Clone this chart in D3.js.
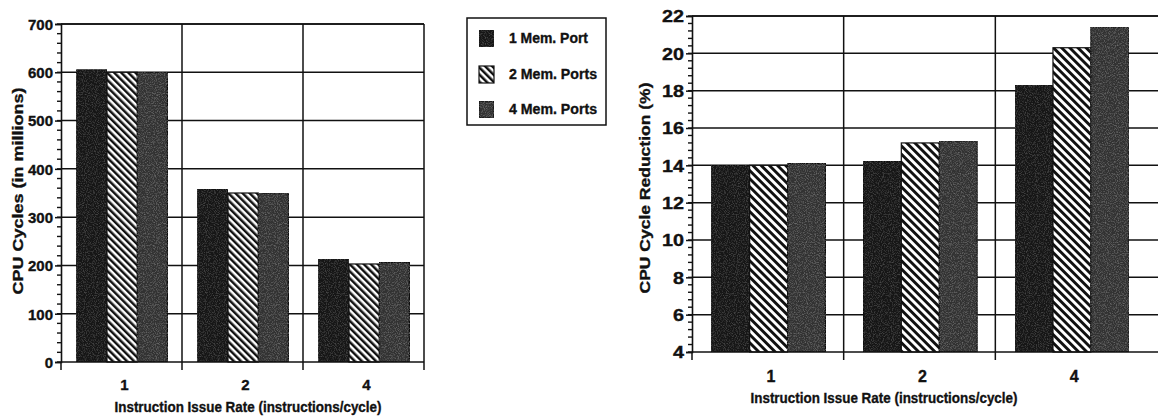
<!DOCTYPE html>
<html><head><meta charset="utf-8">
<script src="https://cdn.jsdelivr.net/npm/d3@7"></script>
<style>
html,body{margin:0;padding:0;background:#fff;}
svg{display:block;}
text{font-family:"Liberation Sans",Arial,Helvetica,sans-serif;font-weight:bold;fill:#111;stroke:#111;stroke-width:0.35px;}
</style></head>
<body>
<svg id="chart" width="1158" height="418"></svg>
<script>
// ---- data ----
const issueRates = ["1", "2", "4"];
const seriesNames = ["1 Mem. Port", "2 Mem. Ports", "4 Mem. Ports"];
const cpuCycles1Port = [605, 357, 213];
const cpuCycles2Ports = [600, 350, 203];
const cpuCycles4Ports = [600, 350, 206];
const reduction1Port = [14.0, 14.2, 18.3];
const reduction2Ports = [14.0, 15.2, 20.3];
const reduction4Ports = [14.1, 15.3, 21.4];
const leftTicks = [0, 100, 200, 300, 400, 500, 600, 700];
const rightTicks = [4, 6, 8, 10, 12, 14, 16, 18, 20, 22];

const svg = d3.select("#chart");
const defs = svg.append("defs");

function stripe(id, w) {
  const p = defs.append("pattern").attr("id", id)
    .attr("patternUnits", "userSpaceOnUse")
    .attr("width", w).attr("height", w)
    .attr("patternTransform", "rotate(-45)");
  p.append("rect").attr("width", w).attr("height", w).attr("fill", "#fff");
  p.append("rect").attr("width", w * 0.5).attr("height", w).attr("fill", "#111");
}
stripe("stripeL", 5.0);
stripe("stripeR", 5.8);

// speckle filters for the dark textured fills
function speckle(id, slope, seed) {
  const f = defs.append("filter").attr("id", id).attr("x", 0).attr("y", 0).attr("width", 1).attr("height", 1);
  f.append("feTurbulence").attr("type", "fractalNoise").attr("baseFrequency", 0.9).attr("numOctaves", 2).attr("seed", seed).attr("result", "n");
  f.append("feColorMatrix").attr("in", "n").attr("type", "matrix")
    .attr("values", "0 0 0 0 1  0 0 0 0 1  0 0 0 0 1  1.2 0 0 0 -0.55").attr("result", "w");
  f.append("feComposite").attr("in", "w").attr("in2", "SourceGraphic").attr("operator", "in").attr("result", "wc");
  f.append("feComponentTransfer").attr("in", "wc").attr("result", "wa")
    .append("feFuncA").attr("type", "linear").attr("slope", slope);
  const fm = f.append("feMerge");
  fm.append("feMergeNode").attr("in", "SourceGraphic");
  fm.append("feMergeNode").attr("in", "wa");
}
speckle("speckleDark", 0.12, 3);
speckle("speckleGrey", 0.25, 7);

const fills = [
  { fill: "#161616", filter: "url(#speckleDark)" },
  { fill: null, filter: null },
  { fill: "#303030", filter: "url(#speckleGrey)" }
];

function drawChart(cfg) {
  const g = svg.append("g");
  const x0 = d3.scaleBand().domain(issueRates).range([cfg.left, cfg.right]).padding(0);
  const x1 = d3.scaleBand().domain(seriesNames)
    .range([x0.bandwidth() * 0.13, x0.bandwidth() * 0.88]).padding(0);
  const y = d3.scaleLinear().domain(cfg.domain).range([cfg.bottom, cfg.top]);

  // horizontal grid
  g.selectAll(".hg").data(cfg.ticks.slice(1)).join("line")
    .attr("x1", cfg.left).attr("x2", cfg.gridRight)
    .attr("y1", d => y(d)).attr("y2", d => y(d))
    .attr("stroke", "#111").attr("stroke-width", 1.5);
  // vertical grid at band boundaries
  const bounds = issueRates.slice(1).map(d => x0(d));
  if (cfg.rightBorder) bounds.push(cfg.right);
  g.selectAll(".vg").data(bounds).join("line")
    .attr("x1", d => d).attr("x2", d => d)
    .attr("y1", cfg.top).attr("y2", cfg.bottom)
    .attr("stroke", "#111").attr("stroke-width", 1.5);

  // bars
  const series = cfg.values;
  const grp = g.selectAll(".grp").data(issueRates).join("g")
    .attr("transform", d => `translate(${x0(d)},0)`);
  grp.selectAll("rect").data((d, i) => seriesNames.map((s, k) => ({ s, k, v: series[k][i] })))
    .join("rect")
    .attr("x", d => x1(d.s)).attr("width", x1.bandwidth())
    .attr("y", d => y(d.v)).attr("height", d => y(cfg.domain[0]) - y(d.v))
    .attr("fill", d => d.k === 1 ? `url(#${cfg.stripe})` : fills[d.k].fill)
    .attr("filter", d => fills[d.k].filter)
    .attr("stroke", "#111").attr("stroke-width", 1.2);

  // y axis
  const ya = d3.axisLeft(y).tickValues(cfg.ticks).tickSize(6).tickPadding(2);
  const yg = g.append("g").attr("transform", `translate(${cfg.left},0)`).call(ya);
  yg.select(".domain").attr("stroke", "#111").attr("stroke-width", 1.6);
  yg.selectAll(".tick line").attr("stroke", "#111").attr("stroke-width", 1.5);
  yg.selectAll(".tick text").style("font-size", cfg.tickFont + "px").attr("fill", "#111")
    .attr("dy", "0.36em");
  if (cfg.tickStretch) yg.selectAll(".tick text").attr("textLength", function () {
    return this.textContent.length * cfg.tickStretch;
  }).attr("lengthAdjust", "spacingAndGlyphs");
  // minor ticks
  g.selectAll(".mt").data(d3.range(cfg.domain[0], cfg.domain[1] + 1e-9, cfg.minor)).join("line")
    .attr("x1", cfg.left - 4).attr("x2", cfg.left)
    .attr("y1", d => y(d)).attr("y2", d => y(d))
    .attr("stroke", "#111").attr("stroke-width", 1.4);

  // x axis
  g.append("line").attr("x1", cfg.left).attr("x2", cfg.gridRight)
    .attr("y1", cfg.bottom).attr("y2", cfg.bottom).attr("stroke", "#111").attr("stroke-width", 1.6);
  const xt = [cfg.left].concat(issueRates.slice(1).map(d => x0(d)));
  if (cfg.rightBorder) xt.push(cfg.right);
  g.selectAll(".xt").data(xt).join("line")
    .attr("x1", d => d).attr("x2", d => d)
    .attr("y1", cfg.bottom).attr("y2", cfg.bottom + 8)
    .attr("stroke", "#111").attr("stroke-width", 1.5);
  g.selectAll(".xl").data(issueRates).join("text")
    .attr("x", d => x0(d) + x0.bandwidth() / 2 + 3).attr("y", cfg.bottom + cfg.xLabelDy)
    .attr("text-anchor", "middle").style("font-size", cfg.tickFont + "px").text(d => d);

  // top border
  g.append("line").attr("x1", cfg.left).attr("x2", cfg.gridRight)
    .attr("y1", cfg.top).attr("y2", cfg.top).attr("stroke", "#111").attr("stroke-width", 1.5);

  // titles
  g.append("text").attr("x", cfg.xTitleX).attr("y", cfg.xTitleY).attr("text-anchor", "middle")
    .style("font-size", "15px").attr("textLength", 267).attr("lengthAdjust", "spacingAndGlyphs")
    .text("Instruction Issue Rate (instructions/cycle)");
  g.append("text").attr("transform", `translate(${cfg.yTitleX},${cfg.yTitleY}) rotate(-90)`)
    .attr("text-anchor", "middle").style("font-size", "15px")
    .attr("textLength", cfg.yTitleLen).attr("lengthAdjust", "spacingAndGlyphs")
    .text(cfg.yTitle);
}

drawChart({
  left: 61, right: 424, gridRight: 424, top: 24, bottom: 362, rightBorder: true,
  domain: [0, 700], ticks: leftTicks, minor: 20, tickFont: 15, stripe: "stripeL",
  values: [cpuCycles1Port, cpuCycles2Ports, cpuCycles4Ports],
  xLabelDy: 28, xTitleX: 248, xTitleY: 412, yTitleX: 23, yTitleY: 191, yTitleLen: 207,
  yTitle: "CPU Cycles (in millions)"
});

drawChart({
  left: 692, right: 1147, gridRight: 1158, top: 16, bottom: 352, rightBorder: false,
  domain: [4, 22], ticks: rightTicks, minor: 0.4, tickFont: 16, tickStretch: 11, stripe: "stripeR",
  values: [reduction1Port, reduction2Ports, reduction4Ports],
  xLabelDy: 30, xTitleX: 884, xTitleY: 403, yTitleX: 650, yTitleY: 188, yTitleLen: 211,
  yTitle: "CPU Cycle Reduction (%)"
});

// legend
const lg = svg.append("g");
lg.append("rect").attr("x", 467).attr("y", 18).attr("width", 139).attr("height", 107)
  .attr("fill", "#fff").attr("stroke", "#111").attr("stroke-width", 1.5);
const rowsY = [38, 74, 109];
const legLen = [79, 88, 88];
lg.selectAll(".sw").data(seriesNames).join("rect")
  .attr("x", 479).attr("y", (d, i) => rowsY[i] - 8).attr("width", 15).attr("height", 17)
  .attr("fill", (d, i) => i === 1 ? "url(#stripeL)" : fills[i].fill)
  .attr("filter", (d, i) => fills[i].filter)
  .attr("stroke", "#111").attr("stroke-width", 1.2);
lg.selectAll(".lt").data(seriesNames).join("text")
  .attr("x", 509).attr("y", (d, i) => rowsY[i] + 5)
  .style("font-size", "14px").attr("textLength", (d, i) => legLen[i]).attr("lengthAdjust", "spacingAndGlyphs")
  .text(d => d);
</script>
</body></html>
